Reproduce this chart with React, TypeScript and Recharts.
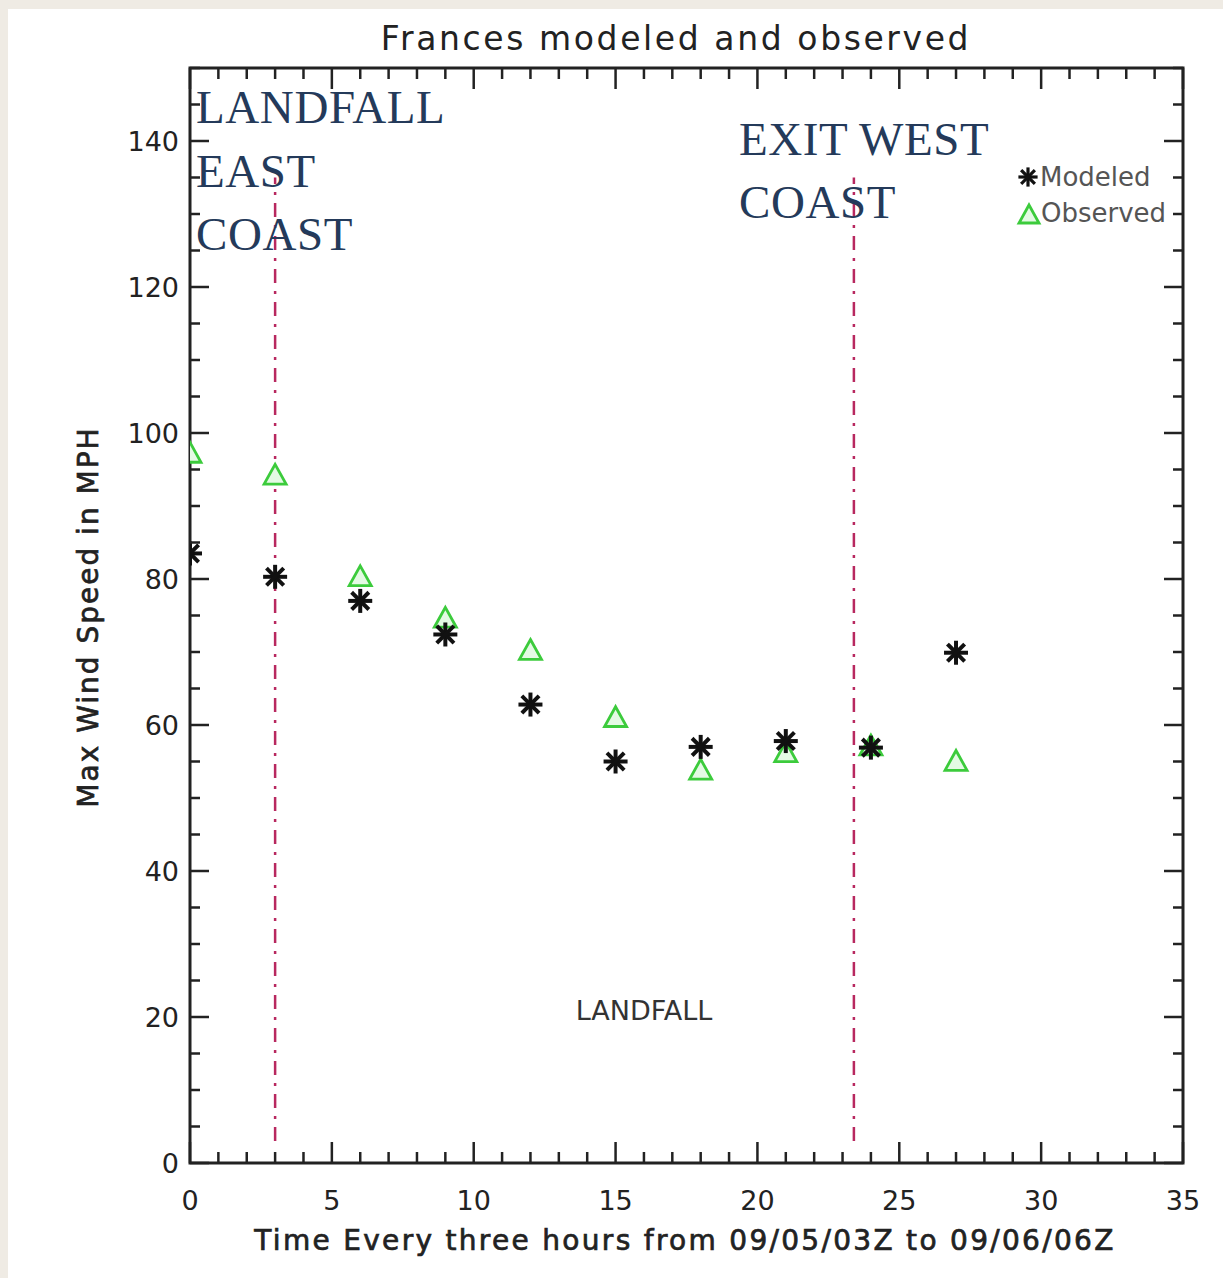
import { ReferenceArea, ReferenceLine, Scatter, ScatterChart, XAxis, YAxis } from 'recharts';

const TIMES = [0, 3, 6, 9, 12, 15, 18, 21, 24, 27];
const MODELED = [83.5, 80.3, 77, 72.4, 62.8, 55, 57, 57.8, 56.9, 69.9];
const OBSERVED = [97.2, 94.2, 80.3, 74.6, 70.2, 61, 53.8, 56.2, 57.1, 55];
const X_TICKS = Array.from({ length: 36 }, (_, i) => i);
const Y_TICKS = Array.from({ length: 31 }, (_, i) => i * 5);
const LANDFALL_X = 3;
const EXIT_X = 23.4;
const LINE_SPAN = [3, 135];

const W = 1223;
const H = 1278;
const M = { top: 68, right: 40, bottom: 55, left: 130 };
const PLOT_W = W - M.left - 60 - M.right;
const PLOT_H = H - M.top - 60 - M.bottom;
const INK = '#222';
const SANS = '"DejaVu Sans", sans-serif';
const NAVY = '#243a5a';

const modeledData = TIMES.map((t, i) => ({ x: t, y: MODELED[i] }));
const observedData = TIMES.map((t, i) => ({ x: t, y: OBSERVED[i] }));

function Asterisk({ cx, cy, r = 10, w = 4 }: { cx: number; cy: number; r?: number; w?: number }) {
  const d = r * 0.72;
  return (
    <g stroke="#111" strokeWidth={w} strokeLinecap="square">
      <line x1={cx - r} y1={cy} x2={cx + r} y2={cy} />
      <line x1={cx} y1={cy - r} x2={cx} y2={cy + r} />
      <line x1={cx - d} y1={cy - d} x2={cx + d} y2={cy + d} />
      <line x1={cx - d} y1={cy + d} x2={cx + d} y2={cy - d} />
    </g>
  );
}

function Triangle({ cx, cy, s = 11 }: { cx: number; cy: number; s?: number }) {
  return (
    <path
      d={`M${cx},${cy - s} L${cx + s},${cy + s * 0.8} L${cx - s},${cy + s * 0.8} Z`}
      fill="#e4fae4"
      stroke="#3ccb3c"
      strokeWidth={2.8}
      strokeLinejoin="miter"
    />
  );
}

function XTick(props: any) {
  const { x, y, payload } = props;
  const v = payload.value;
  const major = v % 5 === 0;
  const len = major ? 21 : 11;
  return (
    <g>
      <line x1={x} x2={x} y1={y} y2={y - len} stroke={INK} strokeWidth={2.5} />
      <line x1={x} x2={x} y1={y - PLOT_H} y2={y - PLOT_H + len} stroke={INK} strokeWidth={2.5} />
      {major && (
        <text x={x} y={y + 37} textAnchor="middle" dominantBaseline="central" fontFamily={SANS} fontSize={27} fill={INK}>
          {v}
        </text>
      )}
    </g>
  );
}

function YTick(props: any) {
  const { x, y, payload } = props;
  const v = payload.value;
  const major = v % 20 === 0;
  const len = major ? 19 : 10;
  return (
    <g>
      <line x1={x} x2={x + len} y1={y} y2={y} stroke={INK} strokeWidth={2.5} />
      <line x1={x + PLOT_W} x2={x + PLOT_W - len} y1={y} y2={y} stroke={INK} strokeWidth={2.5} />
      {major && (
        <text x={x - 11} y={y} textAnchor="end" dominantBaseline="central" fontFamily={SANS} fontSize={27} fill={INK}>
          {v}
        </text>
      )}
    </g>
  );
}

export default function App() {
  return (
    <div style={{ position: 'absolute', left: 0, top: 0, width: W, height: H, background: '#efebe4', overflow: 'hidden' }}>
      <div style={{ position: 'absolute', left: 8, top: 9, right: 0, bottom: 0, background: '#fff' }} />
      <div style={{ position: 'absolute', left: 0, top: 0 }}>
        <ScatterChart width={W} height={H} margin={M}>
          <XAxis
            type="number"
            dataKey="x"
            domain={[0, 35]}
            ticks={X_TICKS}
            interval={0}
            tick={<XTick />}
            tickLine={false}
            axisLine={false}
            tickSize={0}
            tickMargin={0}
            height={60}
            allowDataOverflow
          />
          <YAxis
            type="number"
            dataKey="y"
            domain={[0, 150]}
            ticks={Y_TICKS}
            interval={0}
            tick={<YTick />}
            tickLine={false}
            axisLine={false}
            tickSize={0}
            tickMargin={0}
            width={60}
            allowDataOverflow
          />
          <ReferenceArea x1={0} x2={35} y1={0} y2={150} fill="none" stroke={INK} strokeWidth={3} />
          <ReferenceLine
            segment={[{ x: LANDFALL_X, y: LINE_SPAN[0] }, { x: LANDFALL_X, y: LINE_SPAN[1] }]}
            stroke="#b8285f"
            strokeWidth={2.5}
            strokeDasharray="14 8 3 8"
          />
          <ReferenceLine
            segment={[{ x: EXIT_X, y: LINE_SPAN[0] }, { x: EXIT_X, y: LINE_SPAN[1] }]}
            stroke="#b8285f"
            strokeWidth={2.5}
            strokeDasharray="14 8 3 8"
          />
          <Scatter
            data={observedData}
            isAnimationActive={false}
            shape={(p: any) => <Triangle cx={p.cx} cy={p.cy} />}
          />
          <Scatter
            data={modeledData}
            isAnimationActive={false}
            shape={(p: any) => <Asterisk cx={p.cx} cy={p.cy} />}
          />
        </ScatterChart>
      </div>
      <svg width={W} height={H} style={{ position: 'absolute', left: 0, top: 0, pointerEvents: 'none' }}>
        <text x={676} y={38} textAnchor="middle" dominantBaseline="central" fontFamily={SANS} fontSize={33} letterSpacing={2.6} fill={INK}>
          Frances modeled and observed
        </text>
        <text
          x={88}
          y={617}
          transform="rotate(-90 88 617)"
          textAnchor="middle"
          dominantBaseline="central"
          fontFamily={SANS}
          fontSize={28}
          letterSpacing={2}
          stroke={INK}
          strokeWidth={0.7}
          fill={INK}
        >
          Max Wind Speed in MPH
        </text>
        <text
          x={685}
          y={1240}
          textAnchor="middle"
          dominantBaseline="central"
          fontFamily={SANS}
          fontSize={28}
          letterSpacing={2.3}
          stroke={INK}
          strokeWidth={0.7}
          fill={INK}
        >
          Time Every three hours from 09/05/03Z to 09/06/06Z
        </text>
        <text x={644} y={1020} textAnchor="middle" fontFamily={SANS} fontSize={27} fill="#333">
          LANDFALL
        </text>
        <g fontFamily='"Liberation Serif", serif' fontSize={47} letterSpacing={0.6} fill={NAVY}>
          <text x={196} y={123}>LANDFALL</text>
          <text x={196} y={187}>EAST</text>
          <text x={196} y={250}>COAST</text>
          <text x={739} y={155}>EXIT WEST</text>
          <text x={739} y={218}>COAST</text>
        </g>
        <g fontFamily={SANS} fontSize={26} fill="#555">
          <Asterisk cx={1028} cy={177} r={8} w={3.2} />
          <text x={1040} y={177} dominantBaseline="central">Modeled</text>
          <Triangle cx={1029} cy={215} s={10} />
          <text x={1041} y={213} dominantBaseline="central">Observed</text>
        </g>
      </svg>
    </div>
  );
}
